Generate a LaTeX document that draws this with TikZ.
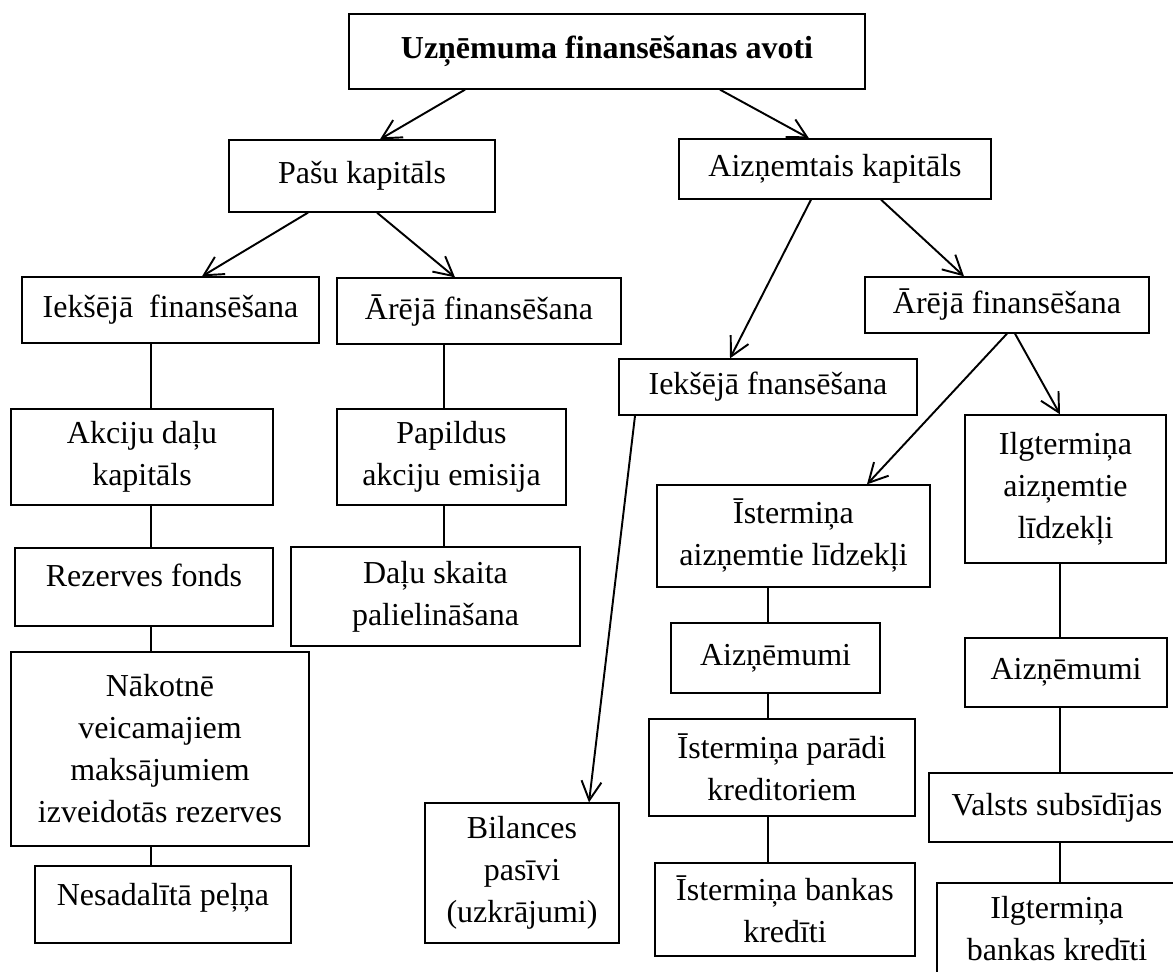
\documentclass[tikz,border=0pt]{standalone}
\usepackage{fontspec}
\setmainfont{Liberation Serif}
\usetikzlibrary{arrows.meta}

\begin{document}
\begin{tikzpicture}[x=0.02cm,y=-0.02cm,line width=0.75pt]
\tikzstyle{bx} = [draw,fill=white,shape=rectangle,inner sep=0pt,align=center,font=\fontsize{18.2}{23.9}\selectfont]
\tikzstyle{arr} = [-{Straight Barb[length=0.38cm,width=0.4cm]},line width=1.1pt]
\useasboundingbox (0,0) rectangle (1173,972);
% columns of the plain lines
\coordinate (c1) at (151,0);
\coordinate (c2) at (444,0);
\coordinate (c3) at (768,0);
\coordinate (c4) at (1060,0);
\node[bx,minimum width=10.32cm,minimum height=1.5cm] (T) at (607,51.5) {\textbf{Uzņēmuma finansēšanas avoti}};
\node[bx,minimum width=5.32cm,minimum height=1.44cm] (PK) at (362,176) {Pašu kapitāls};
\node[bx,minimum width=6.24cm,minimum height=1.2cm] (AK) at (835,169) {Aizņemtais kapitāls};
\node[bx,minimum width=5.94cm,minimum height=1.32cm] (IF1) at (170.5,310) {Iekšējā\ \ finansēšana};
\node[bx,minimum width=5.68cm,minimum height=1.32cm] (AF1) at (479,311) {Ārējā finansēšana};
\node[bx,minimum width=5.68cm,minimum height=1.12cm] (AF2) at (1007,305) {Ārējā finansēšana};
\node[bx,minimum width=5.96cm,minimum height=1.12cm] (IF2) at (768,387) {Iekšējā fnansēšana};
\node[bx,minimum width=5.24cm,minimum height=1.92cm] (ADK) at (142,457) {Akciju daļu\\kapitāls};
\node[bx,minimum width=4.58cm,minimum height=1.92cm] (PAE) at (451.5,457) {Papildus\\akciju emisija};
\node[bx,minimum width=5.16cm,minimum height=1.56cm,text depth=0.46cm] (RF) at (144,587) {Rezerves fonds};
\node[bx,minimum width=5.78cm,minimum height=1.98cm] (DSP) at (435.5,596.5) {Daļu skaita\\palielināšana};
\node[bx,minimum width=5.96cm,minimum height=3.88cm] (NVM) at (160,749) {Nākotnē\\veicamajiem\\maksājumiem\\izveidotās rezerves};
\node[bx,minimum width=5.12cm,minimum height=1.54cm,text depth=0.4cm] (NP) at (163,904.5) {Nesadalītā peļņa};
\node[bx,minimum width=3.88cm,minimum height=2.8cm] (BP) at (522,873) {Bilances\\pasīvi\\(uzkrājumi)};
\node[bx,minimum width=5.46cm,minimum height=2.04cm] (IAL) at (793.5,536) {Īstermiņa\\aizņemtie līdzekļi};
\node[bx,minimum width=4.02cm,minimum height=2.96cm] (IlAL) at (1065.5,489) {Ilgtermiņa\\aizņemtie\\līdzekļi};
\node[bx,minimum width=4.18cm,minimum height=1.4cm] (AZ1) at (775.5,658) {Aizņēmumi};
\node[bx,minimum width=4.04cm,minimum height=1.38cm] (AZ2) at (1066,672.5) {Aizņēmumi};
\node[bx,minimum width=5.32cm,minimum height=1.94cm] (IPK) at (782,767.5) {Īstermiņa parādi\\kreditoriem};
\node[bx,minimum width=5.12cm,minimum height=1.38cm] (VS) at (1057,807.5) {Valsts subsīdījas};
\node[bx,minimum width=5.2cm,minimum height=1.86cm] (IBK) at (785,909.5) {Īstermiņa bankas\\kredīti};
\node[bx,minimum width=4.8cm,minimum height=2.28cm,text depth=0.45cm] (IlBK) at (1057,940) {Ilgtermiņa\\bankas kredīti};
% arrows
\draw[arr] ([xshift=-2.84cm]T.south) -- ([xshift=0.36cm]PK.north);
\draw[arr] ([xshift=2.26cm]T.south) -- ([xshift=-0.52cm]AK.north);
\draw[arr] ([xshift=-1.08cm]PK.south) -- ([xshift=0.63cm]IF1.north);
\draw[arr] ([xshift=0.3cm]PK.south) -- ([xshift=-0.48cm]AF1.north);
\draw[arr] ([xshift=-0.48cm]AK.south) -- ([xshift=-0.76cm]IF2.north);
\draw[arr] ([xshift=0.92cm]AK.south) -- ([xshift=-0.86cm]AF2.north);
\draw[arr] (AF2.south) -- ([xshift=1.47cm]IAL.north);
\draw[arr] ([xshift=0.16cm]AF2.south) -- ([xshift=-0.11cm]IlAL.north);
\draw[arr] ([xshift=-2.66cm]IF2.south) -- ([xshift=1.34cm]BP.north);
% plain lines
\draw (IF1.south -| c1) -- (ADK.north -| c1);
\draw (ADK.south -| c1) -- (RF.north -| c1);
\draw (RF.south -| c1) -- (NVM.north -| c1);
\draw (NVM.south -| c1) -- (NP.north -| c1);
\draw (AF1.south -| c2) -- (PAE.north -| c2);
\draw (PAE.south -| c2) -- (DSP.north -| c2);
\draw (IAL.south -| c3) -- (AZ1.north -| c3);
\draw (AZ1.south -| c3) -- (IPK.north -| c3);
\draw (IPK.south -| c3) -- (IBK.north -| c3);
\draw (IlAL.south -| c4) -- (AZ2.north -| c4);
\draw (AZ2.south -| c4) -- (VS.north -| c4);
\draw (VS.south -| c4) -- (IlBK.north -| c4);
\end{tikzpicture}
\end{document}
